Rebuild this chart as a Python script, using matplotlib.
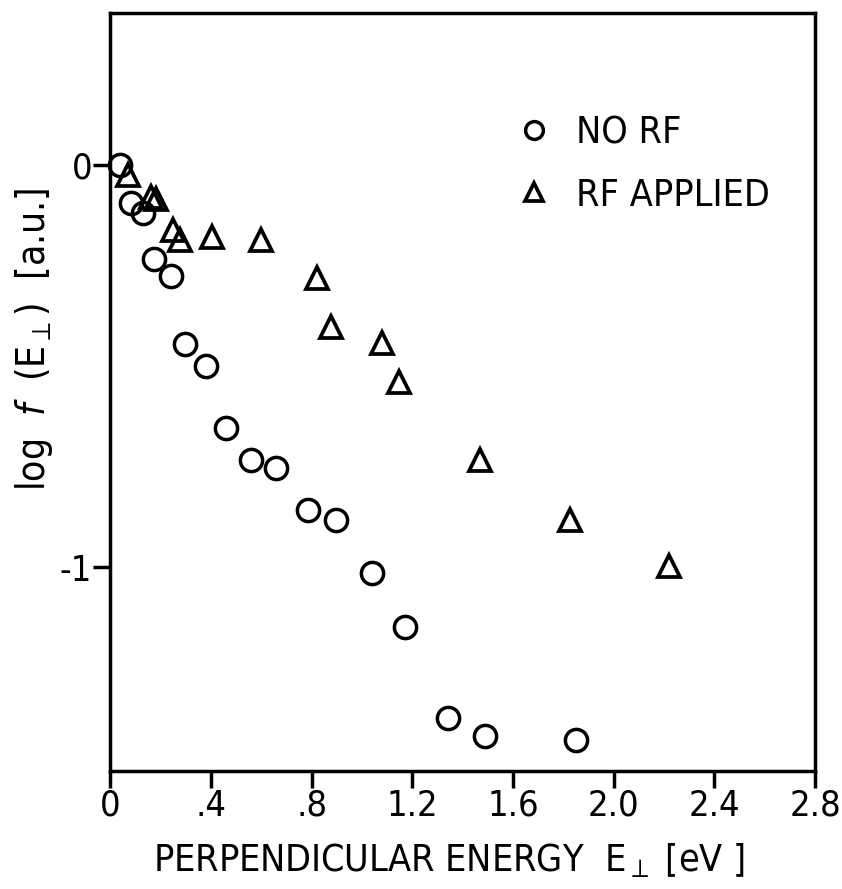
import matplotlib.pyplot as plt

# --- Data ---
no_rf_e = [0.04, 0.084, 0.13, 0.175, 0.24, 0.295, 0.38, 0.46, 0.56, 0.66,
           0.785, 0.896, 1.04, 1.17, 1.34, 1.49, 1.85]
no_rf_logf = [0.0, -0.095, -0.12, -0.234, -0.276, -0.445, -0.50, -0.654, -0.734, -0.754,
              -0.858, -0.883, -1.015, -1.149, -1.376, -1.42, -1.43]

rf_e = [0.07, 0.16, 0.18, 0.25, 0.275, 0.405, 0.60, 0.82, 0.876, 1.08,
        1.147, 1.47, 1.825, 2.22]
rf_logf = [-0.025, -0.08, -0.085, -0.16, -0.187, -0.178, -0.187, -0.28, -0.403, -0.443,
           -0.54, -0.734, -0.883, -0.998]

x_ticks = [0, 0.4, 0.8, 1.2, 1.6, 2.0, 2.4, 2.8]
x_tick_labels = ["0", ".4", ".8", "1.2", "1.6", "2.0", "2.4", "2.8"]
y_ticks = [0, -1]
y_tick_labels = ["0", "-1"]

plt.rcParams["font.family"] = ["DejaVu Sans"]
plt.rcParams["font.stretch"] = "condensed"
plt.rcParams["mathtext.fontset"] = "dejavusans"

fig = plt.figure(figsize=(8.42, 8.89), dpi=100)
ax = fig.add_axes([0.131, 0.133, 0.837, 0.852])

ax.plot(no_rf_e, no_rf_logf, linestyle="none", marker="o", ms=16, mfc="none",
        mec="black", mew=2.5, label="NO RF", clip_on=False)
ax.plot(rf_e, rf_logf, linestyle="none", marker="^", ms=16, mfc="none",
        mec="black", mew=2.7, label="RF APPLIED", clip_on=False)

ax.set_xlim(0, 2.8)
ax.set_ylim(-1.507, 0.378)
ax.set_xticks(x_ticks)
ax.set_xticklabels(x_tick_labels)
ax.set_yticks(y_ticks)
ax.set_yticklabels(y_tick_labels)

for s in ax.spines.values():
    s.set_linewidth(2.5)
ax.tick_params(axis="both", direction="out", length=12, width=2.5,
               labelsize=26, pad=1)

ax.set_xlabel("PERPENDICULAR ENERGY  E$_{\\perp}$ [eV ]", fontsize=27)
ax.xaxis.set_label_coords(0.48, -0.093)
ax.set_ylabel("log  $\\it{f}$  (E$_{\\perp}$)  [a.u.]", fontsize=28)
ax.yaxis.set_label_coords(-0.078, 0.57)

ax.legend(loc="upper left", bbox_to_anchor=(0.522, 0.91), frameon=False,
          fontsize=27, markerscale=0.8, handletextpad=0.5, labelspacing=0.7,
          handlelength=1.2)

fig.savefig("out.png", dpi=100)
